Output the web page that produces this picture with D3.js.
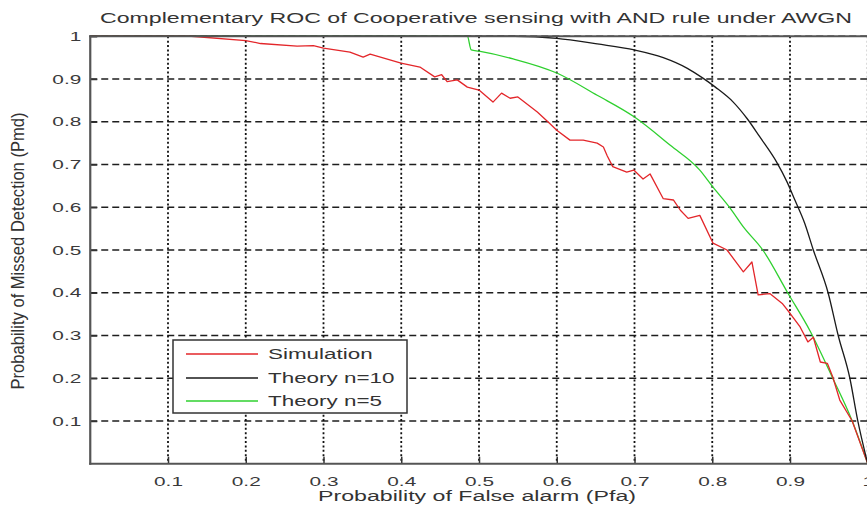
<!DOCTYPE html>
<html><head><meta charset="utf-8">
<script src="https://cdn.jsdelivr.net/npm/d3@7/dist/d3.min.js"></script>
<style>
html,body{margin:0;padding:0;background:#fff;}
svg{display:block;font-family:"Liberation Sans",Arial,sans-serif;}
</style></head>
<body>
<svg id="c" width="867" height="511"></svg>
<script>
// ---- data ----
const titleText = "Complementary ROC of Cooperative sensing with AND rule under AWGN";
const xLabel = "Probability of False alarm (Pfa)";
const yLabel = "Probability of Missed Detection (Pmd)";
const xTicks = [0.1,0.2,0.3,0.4,0.5,0.6,0.7,0.8,0.9,1];
const yTicks = [0.1,0.2,0.3,0.4,0.5,0.6,0.7,0.8,0.9,1];
const seriesNames = ["Simulation","Theory n=10","Theory n=5"];

const simPfa = [0,0.13,0.2,0.219,0.266,0.287,0.3,0.334,0.351,0.36,0.3997,0.424,0.443,0.452,0.459,0.472,0.485,0.5,0.518,0.529,0.54,0.55,0.575,0.591,0.6,0.617,0.634,0.652,0.66,0.665,0.672,0.69,0.699,0.711,0.72,0.737,0.75,0.759,0.769,0.784,0.801,0.819,0.84,0.851,0.859,0.874,0.89,0.9,0.913,0.923,0.93,0.939,0.948,0.955,0.964,0.98,1];
const simPmd = [1,1,0.99,0.983,0.977,0.978,0.972,0.963,0.951,0.958,0.937,0.928,0.905,0.91,0.894,0.898,0.881,0.874,0.846,0.867,0.855,0.858,0.823,0.796,0.78,0.757,0.757,0.75,0.741,0.72,0.695,0.682,0.687,0.666,0.678,0.62,0.617,0.593,0.574,0.581,0.516,0.5,0.449,0.472,0.395,0.398,0.375,0.352,0.32,0.285,0.296,0.238,0.235,0.203,0.149,0.1,0];

const t10Pfa = [0,0.5,0.546,0.6,0.652,0.7,0.737,0.768,0.788,0.804,0.827,0.845,0.861,0.883,0.896,0.906,0.919,0.93,0.949,0.962,0.977,0.987,1];
const t10Pmd = [1,1,1,0.995,0.982,0.968,0.95,0.925,0.902,0.881,0.846,0.807,0.765,0.705,0.66,0.618,0.562,0.5,0.4,0.3,0.2,0.102,0];

const t5Pfa = [0,0.485,0.49,0.5,0.544,0.6,0.652,0.7,0.746,0.784,0.801,0.823,0.84,0.865,0.897,0.926,0.955,0.98,1];
const t5Pmd = [1,1,0.968,0.965,0.947,0.914,0.862,0.811,0.745,0.687,0.647,0.598,0.554,0.5,0.4,0.31,0.2,0.1,0];

const colors = ["#e3262a","#1a1a1a","#2fd02f"];

// ---- layout ----
const svg = d3.select("#c");
const L = 90.25, R = 867.75, T = 36.25, B = 463.75;
const x = d3.scaleLinear().domain([0,1]).range([L,R]);
const y = d3.scaleLinear().domain([0,1]).range([B,T]);
const K = 1.6;
function stretch(sel,k){ sel.each(function(){ const w=this.getComputedTextLength(); d3.select(this).attr("textLength",w*k).attr("lengthAdjust","spacingAndGlyphs"); }); }

svg.append("rect").attr("x",L).attr("y",T).attr("width",R-L).attr("height",B-T).attr("fill","#fff");

// grid
const g = svg.append("g");
g.selectAll("line.h").data(yTicks).join("line")
  .attr("x1",L).attr("x2",R).attr("y1",d=>y(d)).attr("y2",d=>y(d))
  .attr("stroke","#1e1e1e").attr("stroke-width",1.3).attr("stroke-dasharray","7,4");
g.selectAll("line.v").data(xTicks).join("line")
  .attr("x1",d=>x(d)).attr("x2",d=>x(d)).attr("y1",T).attr("y2",B)
  .attr("stroke","#111").attr("stroke-width",1.8).attr("stroke-dasharray","2,2.4");

// lines
const lineSim = d3.line().x(d=>x(d[0])).y(d=>y(d[1]));
const lineTh = d3.line().x(d=>x(d[0])).y(d=>y(d[1])).curve(d3.curveMonotoneX);
const series = [d3.zip(simPfa,simPmd), d3.zip(t10Pfa,t10Pmd), d3.zip(t5Pfa,t5Pmd)];
const order = [2,0,1];
order.forEach(i=>{
  svg.append("path").datum(series[i]).attr("d",i===0?lineSim:lineTh).attr("fill","none")
    .attr("stroke",colors[i]).attr("stroke-width",1.3).attr("stroke-linejoin","round");
});

// axes
const xa = svg.append("g").attr("transform",`translate(0,${B})`)
  .call(d3.axisBottom(x).tickValues(xTicks).tickFormat(d3.format("~g")).tickSizeInner(-7).tickSizeOuter(0).tickPadding(13));
const ya = svg.append("g").attr("transform",`translate(${L},0)`)
  .call(d3.axisLeft(y).tickValues(yTicks).tickFormat(d3.format("~g")).tickSizeInner(-7).tickSizeOuter(0).tickPadding(9));
[xa,ya].forEach(a=>{
  a.select(".domain").remove();
  a.selectAll(".tick line").attr("stroke","#333").attr("stroke-width",1.5);
  a.selectAll("text").attr("fill","#3a3a3a").attr("font-size",13).attr("font-family","Liberation Sans, Arial, sans-serif");
  stretch(a.selectAll("text"),K);
});
// frame
svg.append("line").attr("x1",L).attr("x2",L).attr("y1",T-1).attr("y2",B+1).attr("stroke","#555").attr("stroke-width",2.2);
svg.append("line").attr("x1",L-1).attr("x2",R).attr("y1",B).attr("y2",B).attr("stroke","#555").attr("stroke-width",2.2);
svg.append("line").attr("x1",L-1).attr("x2",R).attr("y1",T).attr("y2",T).attr("stroke","#555").attr("stroke-width",2.2);

// title & labels
svg.append("text").attr("x",100).attr("y",23).attr("font-size",14).attr("fill","#333")
  .attr("textLength",752).attr("lengthAdjust","spacingAndGlyphs").text(titleText);
svg.append("text").attr("x",477).attr("y",501).attr("text-anchor","middle").attr("font-size",14).attr("fill","#333")
  .attr("textLength",318).attr("lengthAdjust","spacingAndGlyphs").text(xLabel);
svg.append("text").attr("transform","translate(24,251) scale(1.3,1) rotate(-90)").attr("text-anchor","middle")
  .attr("font-size",14).attr("fill","#333").attr("textLength",277).attr("lengthAdjust","spacingAndGlyphs").text(yLabel);

// legend
const lg = svg.append("g");
lg.append("rect").attr("x",173).attr("y",340).attr("width",234).attr("height",73)
  .attr("fill","#fff").attr("stroke","#333").attr("stroke-width",1.5);
const rows = [354,378,401];
seriesNames.forEach((n,i)=>{
  lg.append("line").attr("x1",186).attr("x2",258).attr("y1",rows[i]).attr("y2",rows[i])
    .attr("stroke",colors[i]).attr("stroke-width",1.3);
  const t = lg.append("text").attr("x",268).attr("y",rows[i]+5).attr("font-size",14).attr("fill","#333").text(n);
  stretch(t,K);
});
</script>
</body></html>
